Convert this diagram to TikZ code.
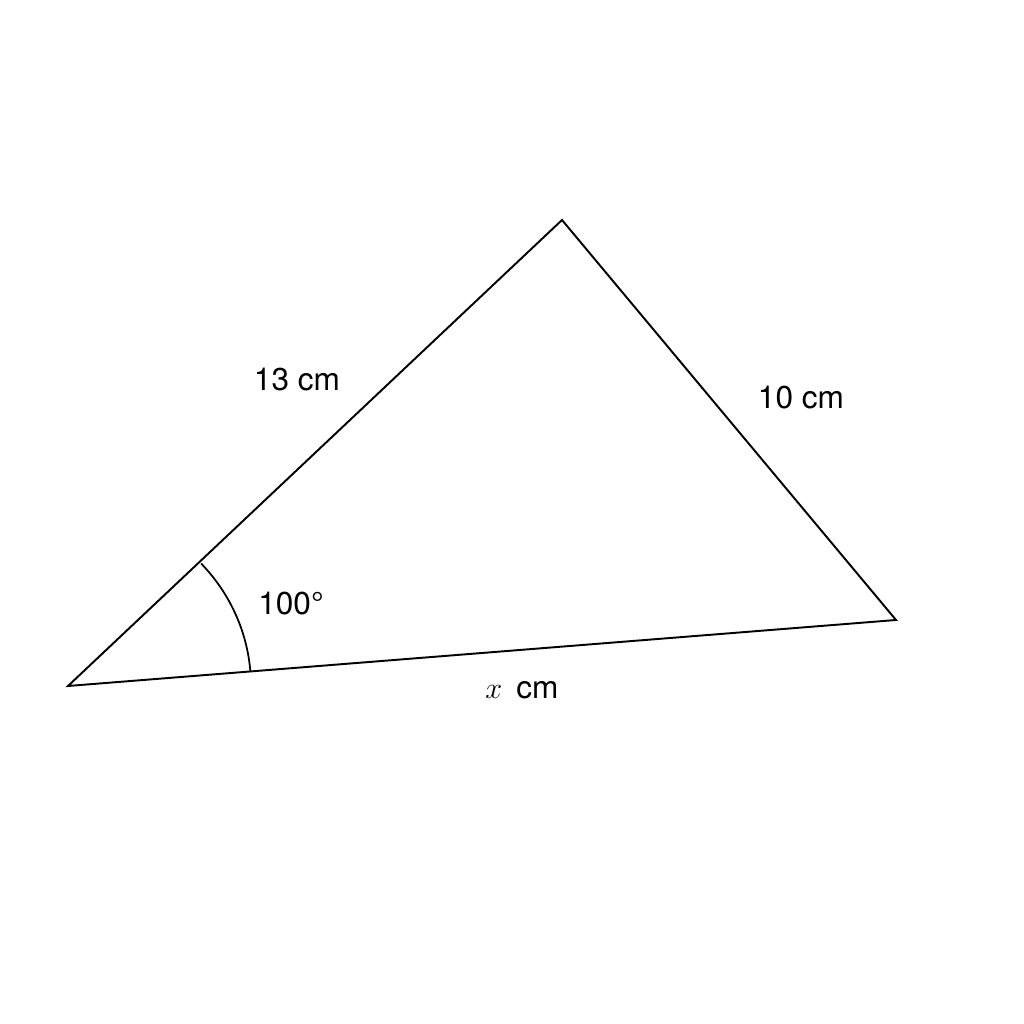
\documentclass[tikz,border=0pt]{standalone}
\usepackage{fontspec}
\setmainfont{TeX Gyre Heros}
\begin{document}
\begin{tikzpicture}[x=0.02cm,y=0.02cm,
  edge/.style={line width=1.1pt, line join=miter},
  lbl/.style={font=\fontsize{18}{21}\selectfont, inner sep=0pt}]
\useasboundingbox (0,0) rectangle (1024,1024);
\fill[white] (0,0) rectangle (1024,1024);
\coordinate (A) at (68,338);
\coordinate (B) at (562,804);
\coordinate (C) at (896,404);
\draw[edge] (A) -- (B) -- (C) -- cycle;
\draw[line width=1pt] ([shift={(4.56:3.66cm)}]A) arc[start angle=4.56, end angle=43.3, x radius=3.66cm, y radius=3.56cm];
\node[lbl] (l13) at (297,644) {13 cm};
\node[lbl] (l10) at (801,626) {10 cm};
\node[lbl] (ang) at (291,420) {100°};
\node[lbl] (lx) at (522,334) {$x$\, cm};
\end{tikzpicture}
\end{document}
